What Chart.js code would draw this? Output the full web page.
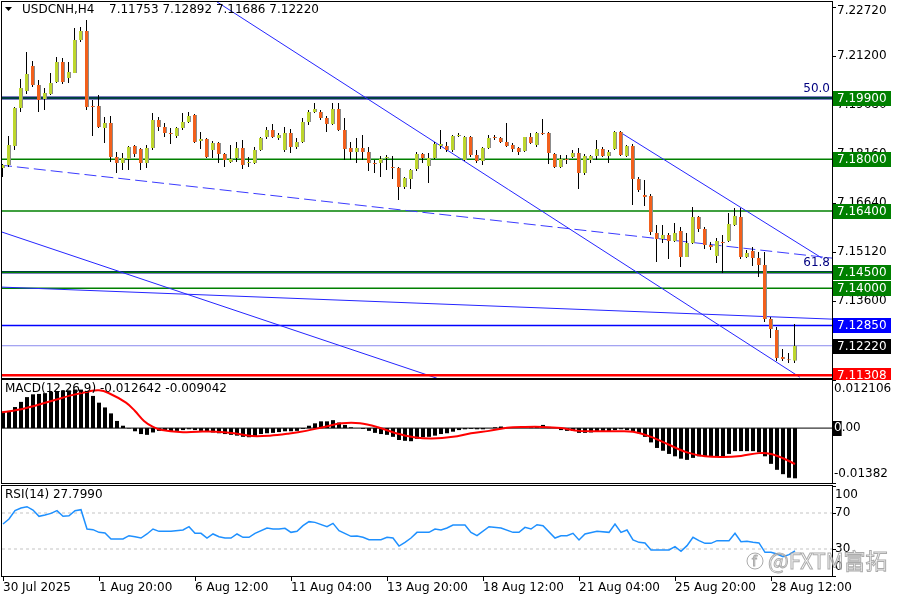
<!DOCTYPE html>
<html>
<head>
<meta charset="utf-8">
<script src="https://cdn.jsdelivr.net/npm/chart.js@4.4.1/dist/chart.umd.min.js"></script>
<style>
  html, body { margin: 0; padding: 0; background: #fff; }
  #wrap { position: relative; width: 900px; height: 600px; overflow: hidden; background: #fff; }
  #wrap canvas { position: absolute; left: 0; }
</style>
</head>
<body>
<div id="wrap">
  <canvas id="priceChart" width="900" height="380" style="top:0"></canvas>
  <canvas id="macdChart" width="900" height="106" style="top:379px"></canvas>
  <canvas id="rsiChart" width="900" height="116" style="top:484px"></canvas>
</div>
<script>
// Header texts
const symbolTitle = 'USDCNH,H4';
const lastQuote = '7.11753 7.12892 7.11686 7.12220';
const macdTitle = 'MACD(12,26,9) -0.012642 -0.009042';
const rsiTitle = 'RSI(14) 27.7990';
const watermark = '@FXTM富拓';

// H4 candles, one entry per bar (bar 0 = 30 Jul 2025 04:00)
const opens = [
  7.17730, 7.17823, 7.18412, 7.19590, 7.20117, 7.20892, 7.20303, 7.19869, 7.20024, 7.20396,
  7.21016, 7.20520, 7.20675, 7.21698, 7.21977, 7.19652, 7.19652, 7.18970, 7.19125, 7.18071,
  7.17885, 7.18009, 7.18412, 7.18319, 7.17885, 7.18350, 7.19218, 7.19001, 7.18815, 7.18722,
  7.18970, 7.19156, 7.19373, 7.18567, 7.18629, 7.18288, 7.18505, 7.18164, 7.17916, 7.18040,
  7.18350, 7.17885, 7.17885, 7.18288, 7.18691, 7.18908, 7.18660, 7.18288, 7.18815, 7.18381,
  7.18536, 7.19156, 7.19466, 7.19466, 7.19280, 7.19094, 7.19559, 7.18908, 7.18350, 7.18226,
  7.18350, 7.18226, 7.17885, 7.17885, 7.18040, 7.17761, 7.17730, 7.17141, 7.17389, 7.17699,
  7.18164, 7.17792, 7.18040, 7.18412, 7.18412, 7.18288, 7.18722, 7.17978, 7.18691, 7.18133,
  7.17947, 7.18350, 7.18691, 7.18660, 7.18536, 7.18443, 7.18350, 7.18257, 7.18691, 7.18443,
  7.18815, 7.18815, 7.18164, 7.17761, 7.18009, 7.18071, 7.18195, 7.17575, 7.17978, 7.18102,
  7.18319, 7.18102, 7.18319, 7.18846, 7.18102, 7.18412, 7.17389, 7.16893, 7.16862, 7.15715,
  7.15529, 7.15653, 7.15467, 7.15777, 7.14971, 7.15405, 7.16211, 7.15839, 7.15343, 7.15002,
  7.15436, 7.15467, 7.15963, 7.16211, 7.14971, 7.15157, 7.14940, 7.14723, 7.13049, 7.12708,
  7.11871, 7.11778, 7.11753
];
const highs = [
  7.17854, 7.18722, 7.19621, 7.20489, 7.21326, 7.21047, 7.20458, 7.20210, 7.20675, 7.21171,
  7.21140, 7.21016, 7.22070, 7.22101, 7.22318, 7.19838, 7.19993, 7.19311, 7.19342, 7.18226,
  7.18195, 7.18412, 7.18443, 7.18350, 7.18443, 7.19435, 7.19311, 7.19125, 7.18970, 7.19001,
  7.19435, 7.19466, 7.19404, 7.18846, 7.18660, 7.18567, 7.18536, 7.18195, 7.18443, 7.18536,
  7.18598, 7.18071, 7.18381, 7.18691, 7.19001, 7.19094, 7.18815, 7.19001, 7.18939, 7.18660,
  7.19280, 7.19528, 7.19745, 7.19528, 7.19342, 7.19745, 7.19745, 7.19280, 7.18536, 7.18660,
  7.18753, 7.18381, 7.17978, 7.18102, 7.18133, 7.18102, 7.17761, 7.17451, 7.17699, 7.18226,
  7.18195, 7.18195, 7.18536, 7.18908, 7.18536, 7.18753, 7.18815, 7.18722, 7.18722, 7.18288,
  7.18381, 7.18753, 7.18753, 7.18691, 7.19125, 7.18505, 7.18381, 7.18691, 7.18815, 7.18846,
  7.19249, 7.18846, 7.18195, 7.18133, 7.18133, 7.18288, 7.18350, 7.18164, 7.18133, 7.18598,
  7.18381, 7.18288, 7.18877, 7.18877, 7.18443, 7.18474, 7.17451, 7.17358, 7.16924, 7.15963,
  7.15963, 7.15715, 7.16025, 7.15901, 7.15715, 7.16521, 7.16242, 7.15901, 7.15436, 7.15560,
  7.15653, 7.16335, 7.16490, 7.16490, 7.15188, 7.15281, 7.15126, 7.15126, 7.13111, 7.12801,
  7.12119, 7.11995, 7.12892
];
const lows = [
  7.17451, 7.17761, 7.18288, 7.19466, 7.20024, 7.20241, 7.19466, 7.19528, 7.19993, 7.20365,
  7.20334, 7.20365, 7.20675, 7.21636, 7.19528, 7.18722, 7.18970, 7.18505, 7.17916, 7.17575,
  7.17668, 7.17668, 7.18071, 7.17668, 7.17730, 7.18288, 7.18877, 7.18691, 7.18474, 7.18660,
  7.18908, 7.19125, 7.18505, 7.18319, 7.18040, 7.18040, 7.17885, 7.17761, 7.17885, 7.17916,
  7.17699, 7.17761, 7.17854, 7.18257, 7.18629, 7.18660, 7.18598, 7.18226, 7.18195, 7.18319,
  7.18505, 7.19063, 7.19435, 7.19218, 7.18846, 7.19063, 7.18877, 7.17978, 7.17978, 7.17885,
  7.17978, 7.17637, 7.17575, 7.17451, 7.17668, 7.17389, 7.16738, 7.17079, 7.17079, 7.17637,
  7.17885, 7.17265, 7.18009, 7.18319, 7.18226, 7.18226, 7.18691, 7.17947, 7.18071, 7.17885,
  7.17823, 7.18319, 7.18598, 7.18505, 7.18381, 7.18226, 7.18133, 7.18226, 7.18474, 7.18381,
  7.18753, 7.17854, 7.17730, 7.17730, 7.17854, 7.18040, 7.17079, 7.17513, 7.17885, 7.17978,
  7.18071, 7.17885, 7.18288, 7.18102, 7.18071, 7.16583, 7.16986, 7.16552, 7.15653, 7.14816,
  7.15405, 7.14909, 7.15436, 7.14661, 7.14971, 7.15374, 7.15746, 7.15219, 7.15188, 7.14785,
  7.14475, 7.15436, 7.15932, 7.14909, 7.14940, 7.14692, 7.14351, 7.12956, 7.12460, 7.11747,
  7.11747, 7.11685, 7.11686
];
const closes = [
  7.17823, 7.18443, 7.19590, 7.20210, 7.20644, 7.20303, 7.19838, 7.20055, 7.20365, 7.21016,
  7.20396, 7.20706, 7.21698, 7.21977, 7.19621, 7.19621, 7.19001, 7.19125, 7.18071, 7.17885,
  7.18040, 7.18381, 7.18164, 7.17885, 7.18350, 7.19218, 7.19001, 7.18815, 7.18784, 7.18970,
  7.19156, 7.19342, 7.18536, 7.18629, 7.18071, 7.18505, 7.18164, 7.17978, 7.18009, 7.18350,
  7.17823, 7.17916, 7.18288, 7.18660, 7.18908, 7.18691, 7.18753, 7.18815, 7.18381, 7.18536,
  7.19156, 7.19466, 7.19559, 7.19280, 7.19094, 7.19559, 7.18908, 7.18319, 7.18226, 7.18350,
  7.18226, 7.17885, 7.17854, 7.18009, 7.18071, 7.17730, 7.17141, 7.17420, 7.17668, 7.18164,
  7.18040, 7.18040, 7.18474, 7.18474, 7.18288, 7.18722, 7.18753, 7.18691, 7.18133, 7.17947,
  7.18350, 7.18660, 7.18660, 7.18536, 7.18412, 7.18319, 7.18226, 7.18691, 7.18505, 7.18815,
  7.18784, 7.18195, 7.17761, 7.18009, 7.17978, 7.18195, 7.17575, 7.18102, 7.18102, 7.18319,
  7.18102, 7.18226, 7.18846, 7.18133, 7.18412, 7.17389, 7.17048, 7.16831, 7.15746, 7.15529,
  7.15653, 7.15467, 7.15715, 7.14971, 7.15405, 7.16211, 7.15839, 7.15343, 7.15281, 7.15467,
  7.15405, 7.15994, 7.16242, 7.14971, 7.15095, 7.14940, 7.14723, 7.13049, 7.12739, 7.11840,
  7.11809, 7.11768, 7.12220
];

// Time axis labels (bar index -> text)
const timeTickIndex = [0, 16, 32, 48, 64, 80, 96, 112, 128];
const timeTickLabels = ['30 Jul 2025', '1 Aug 20:00', '6 Aug 12:00', '11 Aug 04:00', '13 Aug 20:00',
  '18 Aug 12:00', '21 Aug 04:00', '25 Aug 20:00', '28 Aug 12:00'];

// Price axis
const priceMin = 7.11220;
const priceMax = 7.22876;
const priceTicks = [7.22720, 7.21200, 7.19680, 7.18160, 7.16640, 7.15120, 7.13600, 7.12080];

// Horizontal levels drawn on the chart
const greenLevels = [7.19900, 7.18000, 7.16400, 7.14500, 7.14000];
const fibLevels = [7.19900, 7.14500];
const fibNames = ['50.0', '61.8'];
const blueLevel = 7.12850;
const bidLevel = 7.12220;
const redLevel = 7.11308;

// Trend lines: [bar index, price] start and end points
const trendStarts = [[35.67, 7.22878], [102.8, 7.18845], [-0.17, 7.14038], [-0.17, 7.15744]];
const trendEnds = [[132.8, 7.11246], [136.5, 7.14937], [138.17, 7.13045], [72.3, 7.11215]];
const dashedStart = [-0.5, 7.17822];
const dashedEnd = [138.17, 7.14937];

// MACD main values (histogram), one per bar
const macdHist = [
  0.0039, 0.0043, 0.0053, 0.0066, 0.0078, 0.0085, 0.0086, 0.0088, 0.0091, 0.0093,
  0.0095, 0.0095, 0.0097, 0.0097, 0.0093, 0.0081, 0.0064, 0.0052, 0.0037, 0.0018,
  0.0006, -0.0001, -0.0008, -0.0015, -0.0017, -0.0011, -0.0007, -0.0005, -0.0008, -0.0007,
  -0.0005, -0.0003, -0.0005, -0.0007, -0.0008, -0.0011, -0.0013, -0.0015, -0.0017, -0.0019,
  -0.0022, -0.0023, -0.0022, -0.0015, -0.0013, -0.0012, -0.0010, -0.0008, -0.0008, -0.0007,
  -0.0002, 0.0006, 0.0012, 0.0017, 0.0017, 0.0020, 0.0014, 0.0008, 0.0002, 0.0000,
  -0.0002, -0.0007, -0.0012, -0.0015, -0.0017, -0.0022, -0.0030, -0.0032, -0.0033, -0.0027,
  -0.0023, -0.0022, -0.0019, -0.0015, -0.0013, -0.0009, -0.0005, -0.0003, -0.0002, -0.0003,
  -0.0003, 0.0000, 0.0002, 0.0004, 0.0000, 0.0000, 0.0000, 0.0000, 0.0002, 0.0003,
  0.0008, 0.0003, 0.0000, -0.0005, -0.0007, -0.0007, -0.0012, -0.0012, -0.0011, -0.0008,
  -0.0007, -0.0008, -0.0005, -0.0003, -0.0005, -0.0008, -0.0013, -0.0022, -0.0036, -0.0050,
  -0.0057, -0.0065, -0.0071, -0.0077, -0.0080, -0.0075, -0.0071, -0.0071, -0.0071, -0.0071,
  -0.0071, -0.0065, -0.0058, -0.0058, -0.0058, -0.0058, -0.0061, -0.0071, -0.0090, -0.0105,
  -0.0116, -0.0125, -0.012642
];
// MACD signal line: [bar index, value]
const macdSignal = [
  [-0.5, 0.0039], [2.5, 0.0046], [5.5, 0.0057], [8.5, 0.0070], [11.5, 0.0083], [14.5, 0.0093],
  [16, 0.0095], [17.5, 0.0089], [20.5, 0.0064], [22, 0.0043], [23.5, 0.0018], [25, 0.0003],
  [26.5, -0.0005], [29.5, -0.0010], [32.5, -0.0009], [35.5, -0.0009], [38.5, -0.0013],
  [41.5, -0.0020], [44.5, -0.0019], [47.5, -0.0014], [50.5, -0.0007], [53.5, 0.0003],
  [56.5, 0.0012], [59.5, 0.0012], [62.5, 0.0002], [65.5, -0.0013], [68.5, -0.0023],
  [71.5, -0.0026], [75, -0.0022], [78, -0.0013], [81, -0.0007], [84, 0.0001], [87, 0.0003],
  [90, 0.0003], [93, 0.0000], [96, -0.0007], [99, -0.0008], [102, -0.0008], [105, -0.0009],
  [108, -0.0022], [111, -0.0042], [114, -0.0061], [117, -0.0071], [120, -0.0073],
  [123, -0.0070], [126, -0.0063], [128, -0.0065], [130, -0.0076], [132, -0.009042]
];
const macdMin = -0.01382;
const macdMax = 0.012106;
const macdTicks = [0.012106, 0, -0.01382];

// RSI(14): [bar index, value]
const rsiPoints = [
  [0, 57.8], [1, 63.3], [2, 72.6], [3, 75.6], [4, 77.0], [5, 73.3], [6, 66.3], [7, 67.8], [8, 69.6],
  [9, 72.6], [10, 66.3], [11, 67.0], [12, 72.6], [13, 73.7], [14, 52.2], [15, 51.5], [16, 48.5],
  [17, 47.8], [18, 41.1], [20, 41.1], [21, 44.8], [22, 43.7], [23, 42.2], [24, 46.7], [25, 52.2],
  [26, 49.6], [28, 49.6], [30, 51.1], [31, 54.8], [32, 47.4], [33, 47.4], [34, 42.2], [35, 46.7],
  [36, 43.7], [37, 42.2], [38, 42.2], [39, 46.7], [40, 43.0], [41, 43.0], [42, 47.4], [44, 53.3],
  [45, 52.2], [46, 52.2], [47, 53.0], [48, 48.5], [49, 49.6], [50, 55.9], [51, 60.4], [52, 59.6],
  [54, 54.8], [55, 58.5], [56, 50.4], [58, 44.1], [59, 44.4], [60, 43.0], [61, 40.4], [63, 40.4],
  [64, 43.0], [65, 42.2], [66, 33.3], [67, 37.4], [68, 42.2], [69, 48.5], [71, 48.5], [72, 52.2],
  [73, 51.1], [74, 53.3], [75, 56.7], [77, 56.7], [78, 48.5], [79, 44.8], [81, 54.8], [83, 53.3],
  [85, 48.5], [86, 48.5], [87, 54.1], [88, 52.2], [89, 57.0], [90, 55.9], [92, 42.2], [93, 44.8],
  [94, 44.8], [95, 47.4], [96, 40.0], [97, 46.7], [99, 49.6], [101, 48.5], [102, 57.8], [103, 48.5],
  [104, 51.1], [105, 40.0], [106, 37.4], [107, 36.7], [108, 28.9], [109, 28.9], [111, 28.9],
  [112, 32.6], [113, 27.4], [114, 33.7], [115, 43.0], [116, 39.3], [117, 36.3], [118, 36.3],
  [119, 39.3], [121, 39.3], [122, 47.4], [123, 38.1], [124, 38.5], [125, 37.4], [126, 36.7],
  [127, 26.3], [128, 26.3], [129, 24.4], [130, 21.5], [131, 23.7], [132, 27.799]
];
const rsiTicks = [100, 70, 30, 0];
const rsiLevels = [70, 30];

// ---------------------------------------------------------------
const FONT = '"DejaVu Sans", sans-serif';
Chart.defaults.font.family = FONT;
Chart.defaults.font.size = 12;
Chart.defaults.color = '#000';

// x range: 6 px per bar, plot 830 px wide
const X_MIN = -1 / 6;
const X_MAX = X_MIN + 830 / 6;
const BULL = '#bdd62e';
const BEAR = '#f2601c';

function xAxis(shift) {
  return { type: 'linear', min: X_MIN + shift, max: X_MAX + shift, offset: false, display: false, grid: { offset: false } };
}

function hLine(value, color, width, order, dash) {
  return {
    type: 'line', data: [{ x: X_MIN, y: value }, { x: X_MAX, y: value }],
    borderColor: color, borderWidth: width, borderDash: dash || [], pointRadius: 0, order: order
  };
}

function segment(a, b, color, width, order, dash) {
  return {
    type: 'line', data: [{ x: a[0], y: a[1] }, { x: b[0], y: b[1] }],
    borderColor: color, borderWidth: width, borderDash: dash || [], pointRadius: 0, order: order
  };
}

// Draws frame, right axis labels, value boxes and titles for a panel
function panelPlugin(cfg) {
  return {
    id: 'panel',
    afterDraw(chart) {
      const ctx = chart.ctx;
      const a = chart.chartArea;
      const y = chart.scales.y;
      ctx.save();
      ctx.strokeStyle = '#000';
      ctx.lineWidth = 1;
      ctx.strokeRect(a.left - 0.5, a.top - 0.5, a.right - a.left + 1, a.bottom - a.top + 1);
      ctx.font = '12px ' + FONT;
      ctx.textBaseline = 'middle';
      ctx.textAlign = 'left';

      cfg.ticks.forEach(v => {
        const py = y.getPixelForValue(v);
        const ty = Math.round(py) + 0.5;
        ctx.beginPath(); ctx.moveTo(a.right, ty); ctx.lineTo(a.right + 4, ty); ctx.stroke();
        const ly = Math.min(Math.max(py, a.top + 9), a.bottom - 9);
        const txt = cfg.format(v);
        if (v === 0 && cfg.zeroMark) {
          const w0 = ctx.measureText('0').width;
          ctx.fillStyle = '#000';
          ctx.fillRect(cfg.labelX - 1, Math.round(ly) - 7, w0 + 1, 15);
          ctx.fillStyle = '#fff';
          ctx.fillText('0', cfg.labelX, ly);
          ctx.fillStyle = '#000';
          ctx.fillText(txt.slice(1), cfg.labelX + w0, ly);
        } else {
          ctx.fillStyle = '#000';
          ctx.fillText(txt, cfg.labelX, ly);
        }
      });

      (cfg.boxes || []).forEach(b => {
        const py = Math.round(y.getPixelForValue(b.value));
        ctx.fillStyle = b.color;
        ctx.fillRect(a.right + 1, py - 7, 58, 15);
        ctx.fillStyle = '#fff';
        ctx.fillText(cfg.format(b.value), a.right + 5, py + 0.5);
      });

      if (cfg.extra) cfg.extra(chart, ctx, a);

      if (cfg.title) {
        ctx.fillStyle = '#000';
        ctx.fillText(cfg.title, cfg.titleX, a.top + 9);
      }
      ctx.restore();
    }
  };
}

// ---------- price panel ----------
const bars = opens.map((o, i) => i);
const bodyColors = bars.map(i => closes[i] >= opens[i] ? BULL : BEAR);

const priceDatasets = [
  hLine(fibLevels[0], '#000080', 3, 21),
  hLine(fibLevels[1], '#000080', 2.5, 21),
  hLine(greenLevels[0], '#008000', 1.2, 20),
  ...greenLevels.slice(1).map(v => hLine(v, '#008000', 1.5, 20)),
  hLine(blueLevel, '#0000ff', 1.5, 18),
  hLine(bidLevel, '#8a8aee', 1, 18),
  ...trendStarts.map((s, i) => segment(s, trendEnds[i], '#2525ff', 1, 17)),
  segment(dashedStart, dashedEnd, '#3a3aff', 1, 17, [12, 5]),
  hLine(redLevel, '#ff0000', 2.5, 16),
  {
    type: 'bar', xAxisID: 'xw', grouped: false, order: 2,
    data: bars.map(i => ({ x: i, y: [lows[i], highs[i]] })),
    backgroundColor: '#000', barThickness: 1, borderWidth: 0, inflateAmount: 0
  },
  {
    type: 'bar', grouped: false, order: 1,
    data: bars.map(i => ({ x: i, y: [opens[i], closes[i]] })),
    backgroundColor: bodyColors, borderColor: '#8c8c8c',
    borderWidth: { left: 0, top: 0, bottom: 0, right: 1 }, borderSkipped: false,
    barThickness: 4, inflateAmount: 0, minBarLength: 1
  }
];

new Chart(document.getElementById('priceChart'), {
  type: 'bar',
  data: { datasets: priceDatasets },
  options: {
    responsive: false, animation: false, events: [],
    layout: { padding: { left: 2, right: 68, top: 2, bottom: 2 } },
    scales: {
      x: xAxis(0),
      xw: xAxis(0.5 / 6),
      y: { type: 'linear', min: priceMin, max: priceMax, display: false, beginAtZero: false }
    },
    plugins: { legend: { display: false }, tooltip: { enabled: false } }
  },
  plugins: [panelPlugin({
    ticks: priceTicks, labelX: 837, format: v => v.toFixed(5),
    boxes: [
      { value: greenLevels[0], color: '#008000' }, { value: greenLevels[1], color: '#008000' },
      { value: greenLevels[2], color: '#008000' }, { value: greenLevels[3], color: '#008000' },
      { value: greenLevels[4], color: '#008000' }, { value: blueLevel, color: '#0000ff' },
      { value: bidLevel, color: '#000000' }, { value: redLevel, color: '#ff0000' }
    ],
    extra(chart, ctx, a) {
      const y = chart.scales.y;
      // fibonacci level names
      ctx.fillStyle = '#000080';
      ctx.textAlign = 'right';
      fibLevels.forEach((v, i) => ctx.fillText(fibNames[i], a.right - 2, y.getPixelForValue(v) - 9));
      ctx.textAlign = 'left';
      // symbol header
      ctx.fillStyle = '#000';
      ctx.beginPath(); ctx.moveTo(5, 7); ctx.lineTo(12, 7); ctx.lineTo(8.5, 11); ctx.closePath(); ctx.fill();
      ctx.fillText(symbolTitle, 22, a.top + 8);
      ctx.fillText(lastQuote, 109, a.top + 8);
    }
  })]
});

// ---------- MACD panel ----------
new Chart(document.getElementById('macdChart'), {
  type: 'bar',
  data: {
    datasets: [
      hLine(0, '#000', 1, 10),
      {
        type: 'bar', grouped: false, order: 2,
        data: bars.map(i => ({ x: i, y: macdHist[i] })),
        backgroundColor: '#000', barThickness: 4, borderWidth: 0, inflateAmount: 0
      },
      {
        type: 'line', order: 1,
        data: macdSignal.map(p => ({ x: p[0], y: p[1] })),
        borderColor: '#ff0000', borderWidth: 2, pointRadius: 0, tension: 0.35
      }
    ]
  },
  options: {
    responsive: false, animation: false, events: [],
    layout: { padding: { left: 2, right: 68, top: 1, bottom: 2 } },
    scales: {
      x: xAxis(0),
      y: { type: 'linear', min: macdMin, max: macdMax, display: false, beginAtZero: false }
    },
    plugins: { legend: { display: false }, tooltip: { enabled: false } }
  },
  plugins: [panelPlugin({
    ticks: macdTicks, labelX: 834, zeroMark: true,
    format: v => v === 0 ? '0.00' : String(v),
    title: macdTitle, titleX: 5
  })]
});

// ---------- RSI panel ----------
new Chart(document.getElementById('rsiChart'), {
  type: 'line',
  data: {
    datasets: [
      ...rsiLevels.map(v => hLine(v, '#c4c4c4', 1, 10, [3, 3])),
      {
        order: 1, data: rsiPoints.map(p => ({ x: p[0], y: p[1] })),
        borderColor: '#1e90ff', borderWidth: 1.5, pointRadius: 0, tension: 0
      }
    ]
  },
  options: {
    responsive: false, animation: false, events: [],
    layout: { padding: { left: 2, right: 68, top: 2, bottom: 24 } },
    scales: {
      x: xAxis(0),
      y: { type: 'linear', min: 0, max: 100, display: false }
    },
    plugins: { legend: { display: false }, tooltip: { enabled: false } }
  },
  plugins: [panelPlugin({
    ticks: rsiTicks, labelX: 835, format: v => String(v),
    title: rsiTitle, titleX: 5,
    extra(chart, ctx, a) {
      const x = chart.scales.x;
      // time labels under the last panel
      ctx.strokeStyle = '#000';
      timeTickIndex.forEach((idx, i) => {
        const px = Math.round(x.getPixelForValue(idx)) + 0.5;
        ctx.beginPath(); ctx.moveTo(px, a.bottom); ctx.lineTo(px, a.bottom + 5); ctx.stroke();
        ctx.fillStyle = '#000';
        ctx.fillText(timeTickLabels[i], px - 0.5, a.bottom + 12);
      });
      // watermark
      ctx.save();
      ctx.font = '22px "Noto Sans CJK SC", "Noto Sans", sans-serif';
      ctx.textBaseline = 'alphabetic';
      ctx.fillStyle = 'rgba(255,255,255,0.55)';
      ctx.strokeStyle = 'rgba(150,150,150,0.8)';
      ctx.lineWidth = 1;
      ctx.fillText(watermark, 768, a.bottom - 7);
      ctx.strokeText(watermark, 768, a.bottom - 7);
      ctx.beginPath(); ctx.arc(755, a.bottom - 15, 8, 0, Math.PI * 2); ctx.stroke();
      ctx.font = '14px "Noto Sans", sans-serif';
      ctx.strokeText('f', 752, a.bottom - 10);
      ctx.restore();
    }
  })]
});
</script>
</body>
</html>
